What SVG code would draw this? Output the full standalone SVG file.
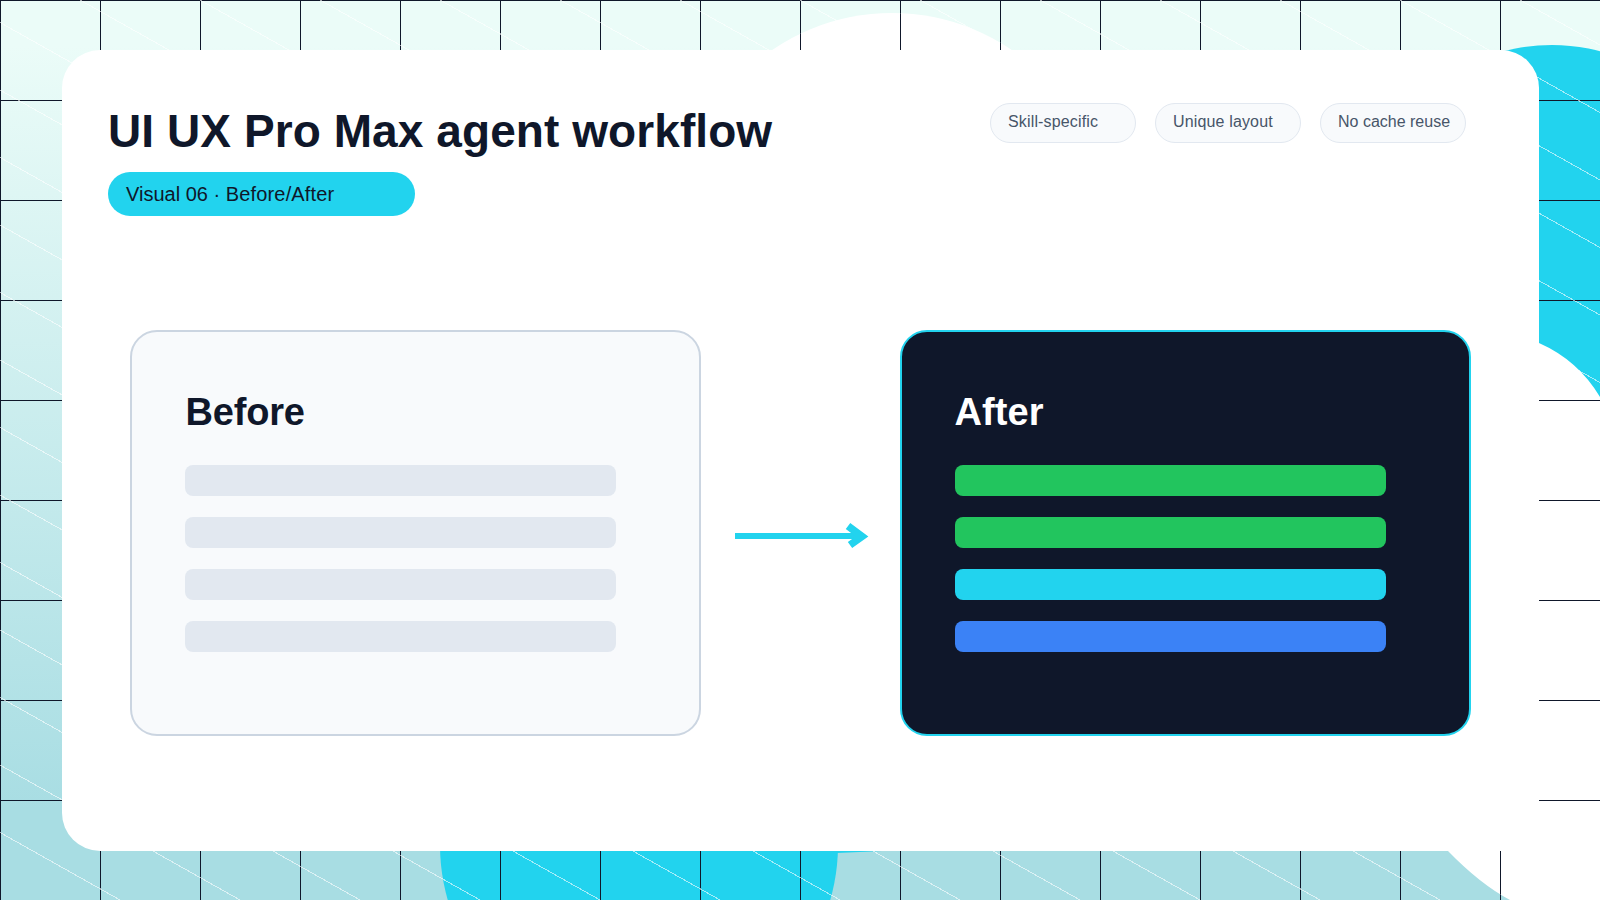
<svg xmlns="http://www.w3.org/2000/svg" width="1600" height="900" viewBox="0 0 1600 900">
<defs>
<linearGradient id="bg" x1="0" y1="0" x2="0" y2="1"><stop offset="0.05" stop-color="#ebfcf8"/><stop offset="0.9" stop-color="#a8dde3"/></linearGradient>
<pattern id="grid" width="100" height="100" patternUnits="userSpaceOnUse"><path d="M0.5 0V100M0 0.5H100" fill="none" stroke="#0f172a" stroke-width="1"/></pattern>
<clipPath id="blobs">
<circle cx="892" cy="226" r="213"/>
<path d="M1539 343A134 134 0 0 1 1600 397V900H1510Q1480 884 1448 851V800H1400V450Z"/>
</clipPath>
</defs>
<style>
.t{font-family:"Liberation Sans",Arial,sans-serif}
.chip{fill:#f8fafc;stroke:#e2e8f0;stroke-width:1}
.chipt{font-size:16px;fill:#475569}
.row{height:31px;width:431px}
.h{font-size:38px;font-weight:700}
.hatch{fill:none;stroke:#fff;stroke-width:1;stroke-opacity:.6;shape-rendering:crispEdges}
</style>
<g id="background">
<rect width="1600" height="900" fill="url(#bg)"/>
<circle cx="1552" cy="232" r="187" fill="#22d3ee"/>
<circle cx="639" cy="845" r="199" fill="#22d3ee"/>
<path d="M837 853L882 851L837 850Z" fill="#22d3ee"/>
<rect width="1600" height="900" fill="url(#grid)"/>
<path class="hatch" d="M0 -855L1600 45M0 -787.500L1600 112.500M0 -720L1600 180M0 -652.500L1600 247.500M0 -585L1600 315M0 -517.500L1600 382.500M0 -450L1600 450M0 -382.500L1600 517.500M0 -315L1600 585M0 -247.500L1600 652.500M0 -180L1600 720M0 -112.500L1600 787.500M0 -45L1600 855M0 22.500L1600 922.500M0 90L1600 990M0 157.500L1600 1057.500M0 225L1600 1125M0 292.500L1600 1192.500M0 360L1600 1260M0 427.500L1600 1327.500M0 495L1600 1395M0 562.500L1600 1462.500M0 630L1600 1530M0 697.500L1600 1597.500M0 765L1600 1665M0 832.500L1600 1732.500M0 900L1600 1800"/>
<circle cx="892" cy="226" r="213" fill="#fff"/>
<path d="M1539 343A134 134 0 0 1 1600 397V900H1510Q1480 884 1448 851V800H1400V450Z" fill="#fff"/>
<rect width="1600" height="900" fill="url(#grid)" clip-path="url(#blobs)"/>
</g>
<g id="card"><rect x="62" y="50" width="1477" height="801" rx="38" fill="#fff"/></g>
<g id="header">
<text class="t" x="108" y="147" font-size="46" font-weight="700" fill="#0f172a" letter-spacing="0.08">UI UX Pro Max agent workflow</text>
<rect x="108" y="172" width="307" height="44" rx="22" fill="#22d3ee"/>
<text class="t" x="126" y="201" font-size="20" fill="#0f172a">Visual 06 · <tspan letter-spacing="0.17">Before/After</tspan></text>
</g>
<g id="chip-1"><rect class="chip" x="990.5" y="103.5" width="145" height="39" rx="19.5"/><text class="t chipt" x="1008" y="127" letter-spacing="0.15">Skill-specific</text></g>
<g id="chip-2"><rect class="chip" x="1155.5" y="103.5" width="145" height="39" rx="19.5"/><text class="t chipt" x="1173" y="127" letter-spacing="0.15">Unique layout</text></g>
<g id="chip-3"><rect class="chip" x="1320.5" y="103.5" width="145" height="39" rx="19.5"/><text class="t chipt" x="1338" y="127">No cache reuse</text></g>
<g id="before">
<rect x="131" y="331" width="569" height="404" rx="26" fill="#f8fafc" stroke="#cbd5e1" stroke-width="2"/>
<text class="t h" x="185.500" y="425" fill="#0f172a" letter-spacing="-0.2">Before</text>
<rect class="row" x="185" y="465" rx="8" fill="#e2e8f0"/>
<rect class="row" x="185" y="517" rx="8" fill="#e2e8f0"/>
<rect class="row" x="185" y="569" rx="8" fill="#e2e8f0"/>
<rect class="row" x="185" y="621" rx="8" fill="#e2e8f0"/>
</g>
<g id="after">
<rect x="901" y="331" width="569" height="404" rx="26" fill="#0f172a" stroke="#22d3ee" stroke-width="2"/>
<text class="t h" x="954.500" y="425" fill="#fff" letter-spacing="0.1">After</text>
<rect class="row" x="955" y="465" rx="8" fill="#22c55e"/>
<rect class="row" x="955" y="517" rx="8" fill="#22c55e"/>
<rect class="row" x="955" y="569" rx="8" fill="#22d3ee"/>
<rect class="row" x="955" y="621" rx="8" fill="#3b82f6"/>
</g>
<g id="connectors">
<path d="M735 536H860" fill="none" stroke="#22d3ee" stroke-width="6"/>
<path d="M848 526L862 536.500L850 545" fill="none" stroke="#22d3ee" stroke-width="7.500"/>
</g>
</svg>
